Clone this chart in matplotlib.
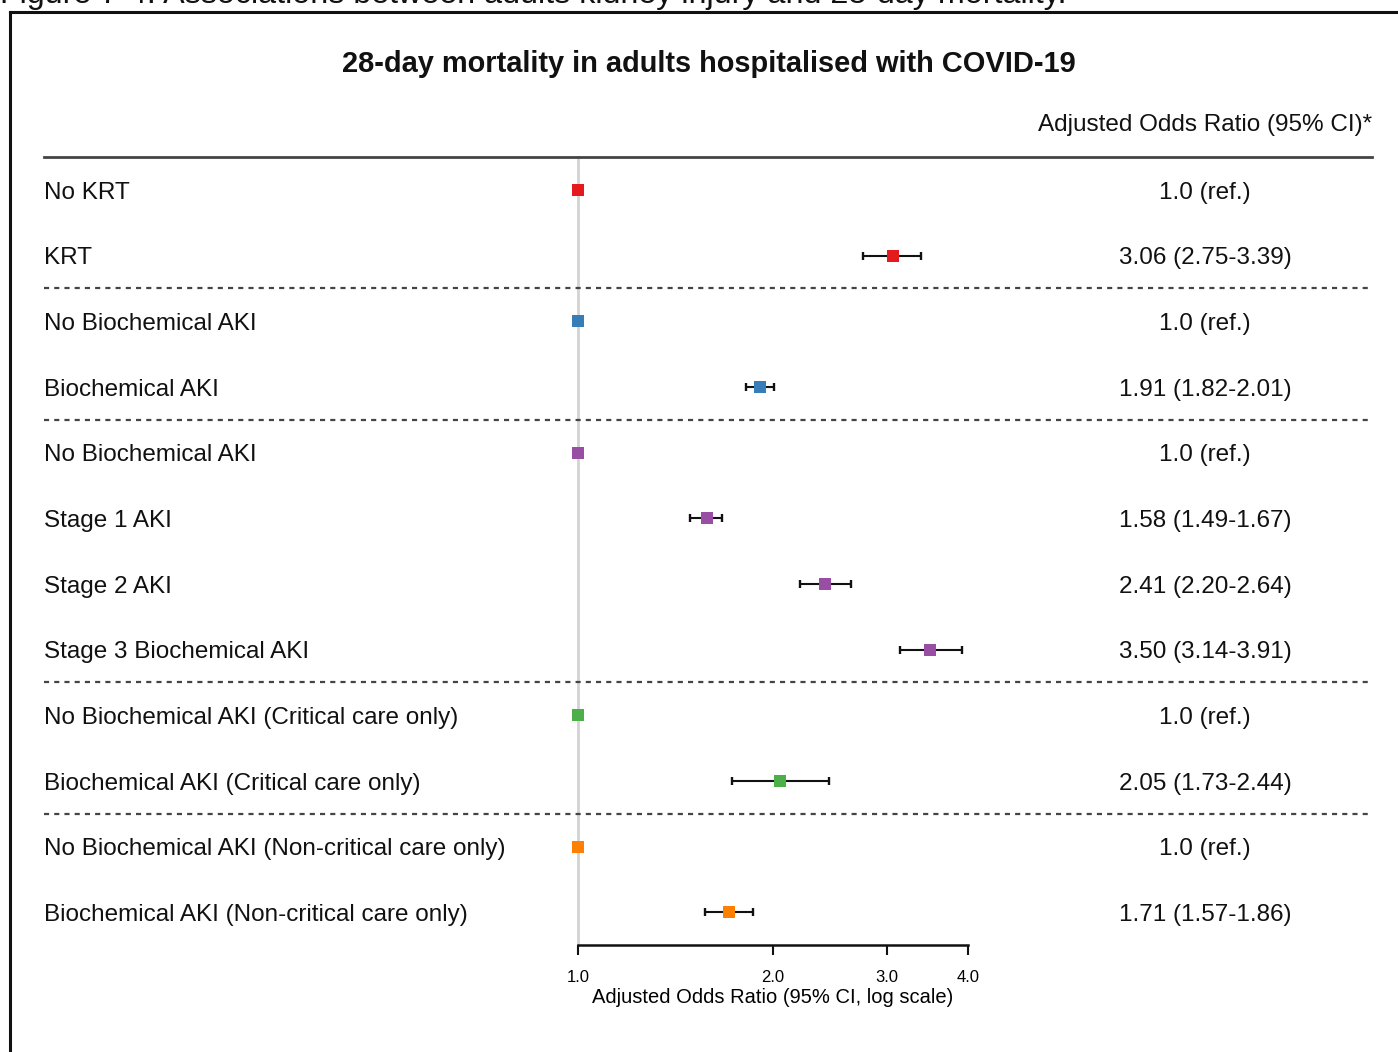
import matplotlib
matplotlib.use("Agg")
import matplotlib.pyplot as plt
import matplotlib.transforms as mtransforms
from matplotlib.lines import Line2D

plt.rcParams['font.family'] = ['Liberation Sans', 'DejaVu Sans']

# ---- data ----
labels = [
    "No KRT", "KRT",
    "No Biochemical AKI", "Biochemical AKI",
    "No Biochemical AKI", "Stage 1 AKI", "Stage 2 AKI", "Stage 3 Biochemical AKI",
    "No Biochemical AKI (Critical care only)", "Biochemical AKI (Critical care only)",
    "No Biochemical AKI (Non-critical care only)", "Biochemical AKI (Non-critical care only)",
]
odds_ratio = [1.0, 3.06, 1.0, 1.91, 1.0, 1.58, 2.41, 3.50, 1.0, 2.05, 1.0, 1.71]
ci_low = [None, 2.75, None, 1.82, None, 1.49, 2.20, 3.14, None, 1.73, None, 1.57]
ci_high = [None, 3.39, None, 2.01, None, 1.67, 2.64, 3.91, None, 2.44, None, 1.86]
group = [0, 0, 1, 1, 2, 2, 2, 2, 3, 3, 4, 4]
group_colors = ["#E41A1C", "#377EB8", "#984EA3", "#4DAF4A", "#FF7F00"]
ticks = [1.0, 2.0, 3.0, 4.0]
tick_labels = ["1.0", "2.0", "3.0", "4.0"]

W, H = 1398, 1052
fig = plt.figure(figsize=(W / 100, H / 100), dpi=100)

def fx(px):
    return px / W

def fy(py):
    return 1 - py / H

# outer frame
fig.add_artist(Line2D([fx(10), fx(10)], [fy(12), -0.05], color="#111111", lw=2.2,
                      transform=fig.transFigure))
fig.add_artist(Line2D([fx(10), 1.05], [fy(12), fy(12)], color="#111111", lw=2.2,
                      transform=fig.transFigure))

# caption above the frame
fig.text(fx(0), fy(3.5), "Figure 7-4: Associations between adults kidney injury and 28-day mortality.",
         fontsize=23.2, ha="left", va="baseline", color="#111111")

# forest axes (log-scaled odds ratio)
ax = fig.add_axes([fx(578), fy(945), fx(968) - fx(578), (945 - 157) / H])
ax.set_xscale("log")
ax.set_xlim(1.0, 4.0)
n = len(labels)
ax.set_ylim(n - 0.5, -0.5)

for s in ["top", "right", "left"]:
    ax.spines[s].set_visible(False)
ax.spines["bottom"].set_linewidth(1.8)
ax.spines["bottom"].set_color("#111111")
ax.set_yticks([])
ax.set_xticks(ticks)
ax.set_xticklabels(tick_labels)
ax.xaxis.set_minor_locator(matplotlib.ticker.NullLocator())
ax.tick_params(axis="x", direction="out", length=7, width=1.5, labelsize=12, pad=11,
               color="#111111")
ax.set_xlabel("Adjusted Odds Ratio (95% CI, log scale)", fontsize=14.5, labelpad=2)

# reference line at OR = 1
ax.axvline(1.0, color="#d3d3d3", lw=2, zorder=0, clip_on=False)

# points and intervals
for i in range(n):
    c = group_colors[group[i]]
    if ci_low[i] is not None:
        ax.errorbar([odds_ratio[i]], [i],
                    xerr=[[odds_ratio[i] - ci_low[i]], [ci_high[i] - odds_ratio[i]]],
                    fmt="none", ecolor="#111111", elinewidth=1.5, capsize=2.9,
                    capthick=1.7, zorder=2)
    ax.plot([odds_ratio[i]], [i], marker="s", markersize=8.5, color=c,
            markeredgewidth=0, linestyle="none", zorder=3, clip_on=False)

# header and separators
x0 = (44 - 578) / 390
x1 = (1372 - 578) / 390
ax.plot([x0, x1], [1, 1], transform=ax.transAxes, color="#444444", lw=2, clip_on=False)
for k in range(1, n):
    if group[k] != group[k - 1]:
        ax.axhline(k - 0.5, xmin=x0, xmax=x1, color="#444444", lw=1.6,
                   linestyle=(0, (2.3, 2.3)), clip_on=False)

# row labels and estimates
blend = mtransforms.blended_transform_factory(fig.transFigure, ax.transData)
for i in range(n):
    lab_tr = mtransforms.offset_copy(blend, fig=fig, x=0, y=-6.3, units="points")
    ax.text(fx(44), i, labels[i], transform=lab_tr, fontsize=17.5, ha="left",
            va="baseline", color="#111111")
    if ci_low[i] is None:
        txt = f"{odds_ratio[i]:.1f} (ref.)"
    else:
        txt = f"{odds_ratio[i]:.2f} ({ci_low[i]:.2f}-{ci_high[i]:.2f})"
    ax.text(fx(1205), i, txt, transform=lab_tr, fontsize=17.5, ha="center",
            va="baseline", color="#111111")

fig.text(fx(708.5), fy(63.5), "28-day mortality in adults hospitalised with COVID-19",
         fontsize=20.9, fontweight="bold", ha="center", va="center", color="#111111")
fig.text(fx(1372), fy(125.5), "Adjusted Odds Ratio (95% CI)*", fontsize=17.5,
         ha="right", va="center", color="#111111")

fig.savefig("out.png", dpi=100)
